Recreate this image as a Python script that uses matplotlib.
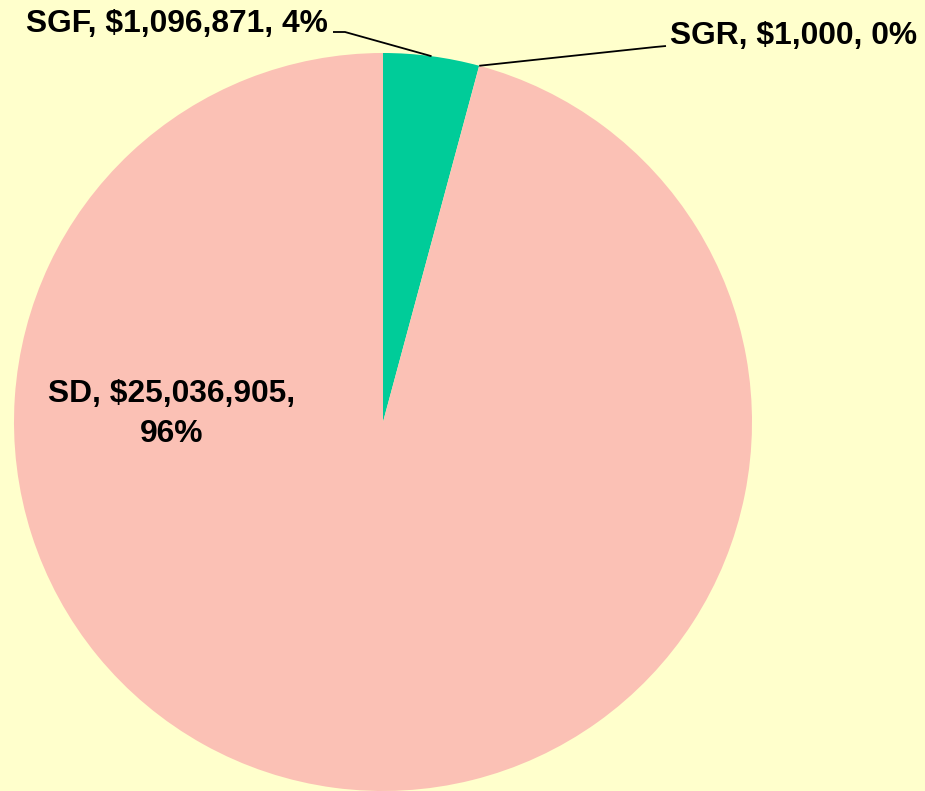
import matplotlib
matplotlib.use("Agg")
import matplotlib.pyplot as plt
import numpy as np

categories = ["SGF", "SGR", "SD"]
values = [1096871, 1000, 25036905]
percent_labels = ["4%", "0%", "96%"]
colors = ["#00CC99", "#FBC1B5", "#FBC1B5"]

W, H = 925, 791
cx, cy, r = 383, 422, 369  # pixel center / radius

def to_data(px, py):
    return ((px - cx) / r, (cy - py) / r)

fig = plt.figure(figsize=(W / 100, H / 100), dpi=100, facecolor="#FFFFCC")
ax = fig.add_axes([0, 0, 1, 1])
ax.set_facecolor("#FFFFCC")
ax.pie(values, colors=colors, startangle=90, counterclock=False, radius=1,
       wedgeprops=dict(linewidth=0))
ax.set_xlim(-cx / r, (W - cx) / r)
ax.set_ylim(-(H - cy) / r, cy / r)
ax.set_aspect("auto")
ax.axis("off")

font = dict(family="Liberation Sans", fontweight="bold", fontsize=22.9, color="black")

def money(v):
    return "${:,}".format(v)

tot = sum(values)

# SGF label with leader
x0, y0 = to_data(333, 32)
x1, y1 = to_data(345, 32)
ang = np.deg2rad(90 - 360 * (values[0] / 2) / tot)
ax.plot([x0, x1, np.cos(ang)], [y0, y1, np.sin(ang)], color="black", lw=1.3, solid_capstyle="butt")
tx, ty = to_data(328, 24)
ax.text(tx, ty, f"{categories[0]}, {money(values[0])}, {percent_labels[0]}", ha="right", va="center", **font)

# SGR label with leader
ang2 = np.deg2rad(90 - 360 * (values[0] + values[1] / 2) / tot)
x2, y2 = to_data(655, 47)
x3, y3 = to_data(666, 46)
ax.plot([np.cos(ang2), x2, x3], [np.sin(ang2), y2, y3], color="black", lw=1.3, solid_capstyle="butt")
tx, ty = to_data(670, 36)
ax.text(tx, ty, f"{categories[1]}, {money(values[1])}, {percent_labels[1]}", ha="left", va="center", **font)

# SD label inside
tx, ty = to_data(172, 414)
ax.text(tx, ty, f"{categories[2]}, {money(values[2])},\n{percent_labels[2]}", ha="center", va="center",
        linespacing=1.42, **font)

fig.savefig("out.png", dpi=100, facecolor="#FFFFCC")
